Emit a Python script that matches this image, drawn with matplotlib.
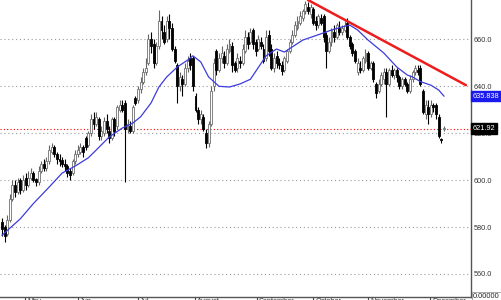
import matplotlib
matplotlib.use('Agg')
import matplotlib.pyplot as plt
import matplotlib.transforms as mtransforms
import numpy as np

# daily candles (roughly mid April -> early December)
opens = [582, 580, 577, 583, 592, 598, 595, 600, 596, 601,
         598, 601, 603, 600.5, 599, 604, 607, 605, 608, 612,
         614, 611, 609, 608.5, 607, 606, 604, 603, 608, 611,
         612, 614, 618, 615, 620, 626, 624, 626, 619, 620,
         625, 621, 618, 626, 623, 630, 632, 633, 622, 623,
         621, 635, 634, 639, 642, 646, 650, 660, 658, 650,
         657, 668, 663, 660, 668, 665, 656, 649, 640, 643,
         641, 648, 652, 652, 636, 630, 626, 627, 620, 616,
         624, 640, 655, 647, 652, 653, 650, 655, 657, 650,
         648, 651, 650, 655, 661, 659, 664, 659, 656, 659,
         656, 652, 662, 656, 648, 653, 650, 649, 647, 651,
         655, 659, 662, 665, 667, 669, 672, 674, 671, 673,
         668, 666, 669, 670, 662, 655, 659, 663, 661, 665,
         663, 664, 667, 661, 658, 655, 646, 648, 647, 651,
         654, 648, 650, 641, 638, 641, 643, 646, 641, 647,
         645, 647, 644, 640, 643, 641, 638, 643, 646, 647,
         648, 638, 628, 631, 628, 632, 632, 627, 617.5, 621.9]
highs = [584, 581, 585, 594, 600, 600, 601, 601, 602, 603,
         604, 605, 604, 601, 606, 608, 609, 610, 615, 616,
         615, 612, 611, 610, 609, 607, 605, 609, 613, 615,
         616, 615, 619, 621, 628, 629, 629, 627, 623, 627,
         628, 623, 627, 627, 632, 634, 634, 634, 626, 625,
         632, 636, 640, 644, 648, 652, 662.5, 663, 660, 659,
         672.5, 670, 666, 670, 671, 667, 657, 650, 646, 645,
         650, 653, 654, 653, 637, 631, 630, 628, 622, 625,
         640, 652, 656, 654, 657, 655, 658, 660, 659, 651,
         654, 653, 658, 664, 663, 665, 665, 660, 662, 661,
         658, 664, 664, 658, 654, 655, 652, 651, 653, 656,
         660, 664, 668, 670, 672, 673, 676.5, 676, 675, 674,
         670, 671, 671, 671, 663, 661, 665, 666, 667, 668,
         666, 668, 669, 662, 659, 656, 652, 651, 653, 656,
         655, 651, 651, 642, 643, 646, 648, 648, 648, 649,
         648, 648, 645, 644, 644, 642, 645, 647, 649, 649,
         649, 639, 634, 634, 634, 633, 633, 628, 618, 623]
lows = [576, 573.5, 576, 582, 591, 593, 594, 594, 595, 596,
        597, 600, 599, 597.5, 598, 603, 604, 604, 607, 611,
        610, 607, 606, 605.5, 604, 601.5, 600, 602, 607, 610,
        611, 610, 613, 614, 619, 622, 623, 617, 617, 619,
        620, 616, 617, 619, 622, 629, 629, 599, 620, 620,
        620, 632, 633, 637, 641, 645, 649, 654, 648, 649,
        656, 660, 658, 659, 660, 655, 650, 633, 638, 636,
        640, 646, 647, 638, 629, 624, 624, 621, 613.5, 614,
        623, 638, 645, 646, 650, 648, 649, 654, 646, 646,
        646, 648, 649, 654, 656, 658, 656, 653, 655, 656,
        650, 651, 653, 647, 646, 648, 647.5, 645, 646, 650,
        654, 658, 661, 664, 666, 668, 671, 671, 669, 666,
        664, 665, 666, 659, 648, 654, 657, 659, 660, 662,
        662, 663, 660, 656, 653, 650, 645, 645.5, 646, 650,
        647, 647, 642, 635, 637, 640, 641, 627, 640, 644,
        643, 642, 639, 639, 640, 637, 637, 642, 645, 645,
        640, 628, 626, 624, 627, 629, 626, 618, 616, 621]
closes = [579, 576, 583, 592, 598, 595, 599, 596, 600, 598,
          601, 603, 600, 599, 604, 607, 605, 608, 613, 614,
          611, 609, 608, 607, 606, 603, 602, 608, 611, 613,
          614, 612, 614, 620, 626, 624, 627, 619, 621, 625,
          622, 618, 626, 621, 631, 632, 630, 622, 624, 621,
          631, 633, 639, 642, 646, 648, 660, 657, 650, 657,
          668, 664, 659, 668, 665, 656, 651, 640, 644, 641,
          648, 651, 649, 640, 630, 626, 628, 622, 616, 624,
          638, 650, 647, 652, 654, 650, 656, 658, 649, 647,
          652, 650, 656, 661, 658, 663, 658, 655, 660, 657,
          651, 661, 655, 648, 652, 650, 649, 646.5, 652, 655,
          659, 662, 666, 668, 670, 672, 675, 672, 674, 667,
          666, 670, 667, 661, 655, 659, 664, 661, 666, 663,
          665, 666, 661, 657, 654, 651, 650, 647, 652, 654,
          648, 650, 643, 637, 641, 645, 646, 641, 647, 645,
          647, 644, 640, 643, 641, 638, 643, 646, 648, 646,
          641, 629, 632, 628, 632, 631, 628, 619, 617, 621.92]

# moving average (blue), read at a few bars
ma_idx = [0, 7, 12, 18, 23, 28, 33, 36, 41, 46, 50, 53, 57, 60, 63, 67,
          71, 73, 76, 79, 83, 87, 91, 95, 98, 101, 105, 108, 111, 115,
          121, 126, 130, 133, 136, 140, 146, 151, 155, 157, 160, 164, 167, 169]
ma_val = [576.5, 583.5, 590, 597, 603, 606, 609.5, 612.8, 618.4, 622.2, 624.3, 627, 632.9, 639.7, 644, 648.2,
          651.2, 653, 650.4, 644, 640, 639.7, 641, 643, 648, 653, 655.9, 654.6, 656.8, 659.7,
          662, 664, 665.3, 666.1, 664, 659.7, 654.2, 648.2, 644.8, 644, 642, 640.5, 638.4, 635.838]

# trend line (red)
trend_x = [117, 177.4]
trend_y = [676.8, 640.5]

last_price = 621.92
grid_levels = [560, 580, 600, 620, 640, 660]
month_pos = [8.8, 29.0, 51.9, 73.8, 97.4, 119.1, 140.1, 163.7]
month_names = ['May', 'Jun', 'Jul', 'August', 'September', 'October', 'November', 'December']

plt.rcParams['font.family'] = ['Liberation Sans', 'DejaVu Sans']

fig = plt.figure(figsize=(5.01, 3.0), dpi=100)
ax = fig.add_axes([0, 0.011, 471 / 501, 0.989])

x = np.arange(len(closes))
o = np.array(opens)
c = np.array(closes)
up = c >= o

# grid
for g in grid_levels:
    ax.axhline(g, color='#9a9a9a', lw=0.8, ls=(0, (1, 2.5)), zorder=1)
ax.axhline(last_price, color='#ff0000', lw=0.8, ls=(0, (1, 2)), zorder=1)

# candles: wicks grey for up days, black for down days
hi = np.array(highs)
lo = np.array(lows)
ax.vlines(x[up], lo[up], hi[up], color='#666666', lw=0.8, zorder=2)
ax.vlines(x[~up], lo[~up], hi[~up], color='black', lw=0.8, zorder=2)
body = np.abs(c - o)
body = np.where(body < 0.4, 0.4, body)
bot = np.minimum(o, c)
ax.bar(x[up], body[up], bottom=bot[up], width=0.75, color='white', edgecolor='#707070', lw=0.6, zorder=3)
ax.bar(x[~up], body[~up], bottom=bot[~up], width=0.75, color='black', edgecolor='black', lw=0.6, zorder=3)

ax.plot(ma_idx, ma_val, color='#3c3cdc', lw=0.9, zorder=4)
ax.plot(trend_x, trend_y, color='#ee1c1c', lw=1.8, zorder=5, solid_capstyle='round')

ax.set_xlim(-0.76, 179.35)
ax.set_ylim(550.3, 676.8)

for s in ['left', 'top']:
    ax.spines[s].set_visible(False)
ax.spines['right'].set_color('#555555')
ax.spines['bottom'].set_color('#555555')
ax.spines['right'].set_linewidth(1.0)
ax.spines['bottom'].set_linewidth(1.0)

# right price scale
ax.yaxis.tick_right()
ax.set_yticks(grid_levels)
ax.set_yticklabels(['%.1f' % g for g in grid_levels], fontsize=5.3, color='#333333')
ax.tick_params(axis='y', length=0, pad=2)

# month separators along the bottom (labels are cut by the image edge, as in the original)
ax.set_xticks(month_pos)
ax.set_xticklabels([])
ax.tick_params(axis='x', length=3, width=0.8, color='#444444', direction='out')
trans = mtransforms.blended_transform_factory(ax.transData, ax.transAxes)
for p, n in zip(month_pos, month_names):
    ax.text(p + 0.8, -0.006, n, transform=trans, ha='left', va='top', fontsize=5.3, color='#333333')

# value boxes on the price scale
ytrans = mtransforms.blended_transform_factory(ax.transAxes, ax.transData)
ax.text(1.004, ma_val[-1], '%.3f' % ma_val[-1], transform=ytrans, ha='left', va='center',
        fontsize=5.3, color='white', zorder=10, clip_on=False,
        bbox=dict(boxstyle='square,pad=0.25', fc='#1a1aee', ec='#1a1aee'))
ax.text(1.004, last_price, '%.2f' % last_price, transform=ytrans, ha='left', va='center',
        fontsize=5.3, color='white', zorder=10, clip_on=False,
        bbox=dict(boxstyle='square,pad=0.25', fc='black', ec='black'))
ax.text(1.004, 0.0, '0.00000', transform=ax.transAxes, ha='left', va='center',
        fontsize=5.3, color='#222222', clip_on=False,
        bbox=dict(boxstyle='square,pad=0.15', fc='white', ec='#888888', lw=0.5))

fig.savefig('out.png', dpi=100)
